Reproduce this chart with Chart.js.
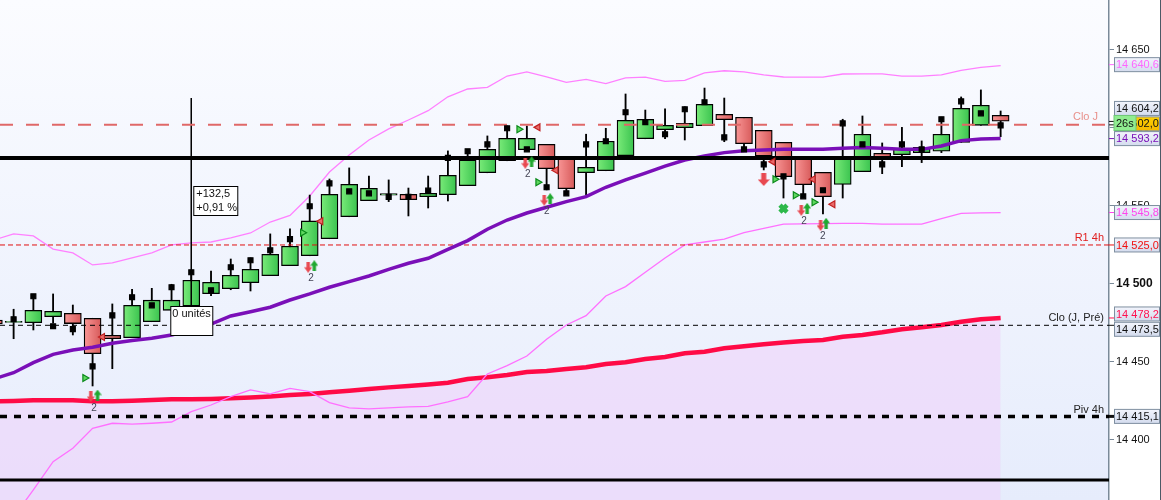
<!DOCTYPE html>
<html>
<head>
<meta charset="utf-8">
<title>Chart</title>
<script src="https://cdn.jsdelivr.net/npm/chart.js@4/dist/chart.umd.min.js"></script>
<style>
  html, body { margin: 0; padding: 0; background: #fff; }
  canvas { display: block; }
</style>
</head>
<body>
<canvas id="chart" width="1161" height="500"></canvas>
<script>
// ---- candles, index 0 is the one cut by the left edge
const opens = [14476.9,14475.3,14475.2,14479,14481.2,14478,14467.1,14465.6,14475.8,14483.1,14485.9,14493.8,14497,14500.8,14505.3,14511.7,14518.1,14529,14543.1,14553.4,14557,14557.5,14556,14557.2,14563,14571.3,14579,14586.1,14589.5,14580.1,14571.3,14572.6,14582.2,14593.1,14598.9,14600.2,14601.5,14608.8,14606.9,14598.5,14590.8,14580.1,14571.6,14563.8,14572,14583.8,14582.9,14584.2,14585.1,14590.8,14601.7,14608.1];
const closes = [14474.4,14476,14483.1,14482.5,14474.6,14455.3,14464.9,14486.3,14489.6,14489.6,14502.4,14501.1,14505.6,14509.4,14519,14524.2,14540.4,14557.5,14563.9,14561.3,14558,14554,14558.1,14569.7,14579.5,14586.3,14593.4,14593.4,14573.9,14561.1,14574.8,14591.5,14604.9,14605.6,14601.7,14603,14615.2,14605.3,14589.9,14582,14568.8,14563.7,14556,14580.1,14596,14581.2,14586.5,14587.6,14596,14612.6,14614.6,14604.3];
const highs = [14476.9,14483.8,14492.9,14493.6,14486.5,14478,14487.2,14496.6,14497.2,14499.8,14508,14508.3,14516,14516.7,14532.1,14535.3,14557,14567.3,14574.4,14569.2,14566.7,14561.5,14569.2,14585.3,14586.3,14594.9,14601.3,14601.3,14589.5,14580.1,14596,14599.8,14621.8,14611.5,14612.2,14613.6,14625.6,14619.2,14606.9,14598.5,14590.8,14580.1,14571.6,14605.6,14607.7,14590.4,14600.4,14591.7,14606.9,14619.9,14624.4,14610.9];
const lows = [14474.4,14464.9,14470.5,14475,14467.3,14434.6,14445.7,14465.6,14475.8,14483.1,14485.9,14492.5,14496.3,14495.5,14505.3,14511.7,14518.1,14529,14543.1,14553.4,14552.8,14543.6,14548.7,14553.2,14563,14571.3,14579,14586.1,14560.3,14558.3,14557,14572.6,14582.2,14593.1,14593.1,14592.3,14601.5,14591.2,14587.2,14573.1,14555.1,14556,14544.9,14555.1,14572,14570.7,14575.2,14577.8,14584.2,14590.8,14601.7,14594.4];
const dots = [null,14477.4,14492.1,14472.9,14471,14447.2,14479.9,14491.5,14486.3,14497.9,14507.5,14496,14510.7,14515.2,14521.6,14528.7,14549.8,14564.5,14559.4,14558.1,14555.8,14555.8,14559.8,14580.8,14585.1,14589.5,14599.8,14586.3,14562,14558.1,14589.5,14591.5,14610.1,14603.8,14596,14612,14616.5,14594,14586.3,14576.7,14569,14556.2,14560.1,14603,14589.5,14576.7,14589.5,14586.3,14605.6,14617.1,14609.4,14601.7];

// ---- indicators
const upperBand = [14528.2,14532.1,14530.8,14522.4,14519.9,14512.2,14513.5,14516.7,14519.9,14525,14526.3,14526.9,14529.5,14532.7,14539.7,14543.9,14556.4,14571.8,14582.7,14592.3,14599.4,14605.1,14611.1,14620,14625,14626,14633.3,14636,14632.7,14629.2,14631.2,14628.5,14632.1,14632.6,14629.9,14630.5,14635.3,14636.7,14636,14634,14632.7,14632.6,14632.6,14634.6,14634.7,14634.7,14633.3,14633.3,14634,14636.9,14638.8,14640];
const lowerBand = [14335.9,14350.6,14368,14386.1,14394.7,14407.5,14410.7,14410.1,14410.7,14411.5,14418.1,14422.4,14427.8,14432.1,14429.5,14433.1,14431,14423.9,14420.5,14419.9,14420.5,14421.2,14421.5,14424.4,14427.8,14442.3,14447.6,14453.8,14464.6,14473.7,14479.7,14492.3,14498.3,14507.5,14516.7,14525,14526.9,14528.8,14532.9,14535.7,14538.3,14538.5,14538.7,14538.8,14538.9,14538.3,14538.3,14538.3,14541.9,14545.3,14545.6,14545.8];
const purpleMa = [14439.1,14443.1,14449.6,14454.9,14457.7,14459.4,14462,14463.7,14465.2,14467.3,14470.5,14474.2,14479.5,14482.2,14485.1,14489.7,14493.6,14497.9,14501.5,14505.1,14509.4,14513.3,14516.5,14522.2,14527.8,14535.1,14541,14545.5,14549.2,14552.8,14556,14562,14566.7,14571,14575.6,14579.5,14582,14584.2,14585.4,14585.9,14586.3,14586.3,14586.3,14587,14587.5,14587,14586.3,14586.3,14588.5,14591.9,14592.9,14593.2];
const redMa = [14424.7,14425,14425.5,14425.5,14425.5,14424.8,14424.8,14425.2,14425.6,14426.1,14426.1,14426.3,14426.7,14427.2,14427.9,14428.8,14429.5,14430.6,14431.6,14432.7,14433.7,14434.6,14435.6,14436.7,14439.1,14440.2,14441.7,14443.6,14444.2,14445.5,14446.6,14448.7,14449.8,14451.9,14453.2,14455.6,14456.6,14458.8,14460.1,14461.3,14462.4,14463.5,14464.1,14466.2,14467.3,14469,14471,14472.2,14473.7,14475.8,14477.4,14478.2];

// ---- horizontal levels
const cloJ = 14602;
const blackLevel = 14580.8;
const r1 = 14525;
const cloPre = 14473.5;
const piv = 14415.1;
const bottomLevel = 14374.4;

// ---- signals: [candle position, price]
const triRight = [[4.61,14439.7],[15.64,14532.9],[26.6,14599.2],[27.56,14565.2],[39.57,14567.1],[40.6,14556.9],[41.55,14552.4]];
const triLeft = [[5.5,14466],[16.56,14540.2],[27.56,14600.4],[28.47,14572.9],[39.46,14578.4],[41.5,14567.1],[42.5,14551.1]];
const arrowsDown = [[4.91,14427.8],[15.92,14510.7],[26.92,14577.4],[27.88,14553.7],[40.9,14547.2],[41.88,14537.6]];
const arrowsUp = [[5.25,14428.8],[16.23,14511.7],[27.24,14578.4],[28.18,14554.7],[41.2,14548.5],[42.16,14538.9]];
const twos = [[5.07,14420.5],[16.06,14503.7],[27.05,14570.5],[28.01,14546.6],[41.04,14540.2],[41.99,14530.8]];
const bigArrowDown = [[39,14567]];
const crossMark = [[40,14548.3]];
const measureCandle = 10;
const measureTop = 14619.2;
const measureBottom = 14469;

// ---- texts
const measureLines = ['+132,5', '+0,91 %'];
const unitsText = '0 unités';
const levelNames = [
  { text: 'Clo J', value: cloJ, color: '#e8908a', dy: -8, right: 1098 },
  { text: 'R1 4h', value: r1, color: '#e02020', dy: -7, right: 1104 },
  { text: 'Clo (J, Pré)', value: cloPre, color: '#222', dy: -7, right: 1104 },
  { text: 'Piv 4h', value: piv, color: '#222', dy: -6, right: 1104 }
];
const tagValues = [14640.6, 14604.2, 14602, 14593.2, 14545.8, 14525, 14478.2, 14473.5, 14415.1];
const tagTexts = ['14 640,6', '14 604,2', '14 602,0', '14 593,2', '14 545,8', '14 525,0', '14 478,2', '14 473,5', '14 415,1'];
const tagColors = ['#ff66ff', '#111', '#111', '#7a10b8', '#ff44ee', '#f01010', '#ff1050', '#111', '#111'];
const tagShift = [0, -13, -1, 0, 0, 0, -4, 4, 0];

const FONT = '"Liberation Sans", Arial, sans-serif';
const pts = list => list.map(p => ({ x: p[0], y: p[1] }));
const series = list => list.map((v, i) => ({ x: i, y: v }));
const XMIN = 0.31, XMAX = 56.49;
const flat = v => [{ x: XMIN, y: v }, { x: XMAX, y: v }];

function makeArrow(color, up, w, h) {
  const c = document.createElement('canvas');
  c.width = w; c.height = h;
  const g = c.getContext('2d');
  g.fillStyle = color;
  const sw = w * 0.42, mid = h * 0.5;
  g.beginPath();
  if (up) {
    g.moveTo(w / 2, 0); g.lineTo(w, mid); g.lineTo(w / 2 + sw / 2, mid); g.lineTo(w / 2 + sw / 2, h);
    g.lineTo(w / 2 - sw / 2, h); g.lineTo(w / 2 - sw / 2, mid); g.lineTo(0, mid);
  } else {
    g.moveTo(w / 2, h); g.lineTo(w, mid); g.lineTo(w / 2 + sw / 2, mid); g.lineTo(w / 2 + sw / 2, 0);
    g.lineTo(w / 2 - sw / 2, 0); g.lineTo(w / 2 - sw / 2, mid); g.lineTo(0, mid);
  }
  g.closePath();
  g.fill();
  return c;
}

// body colours go light to dark from left to right
function bodyFill(ctx) {
  const i = ctx.dataIndex;
  if (i === undefined) return '#55d055';
  const up = closes[i] >= opens[i];
  const px = ctx.chart.scales.x.getPixelForValue(i);
  if (!Number.isFinite(px)) return up ? '#55d055' : '#e87a7a';
  const g = ctx.chart.ctx.createLinearGradient(px - 8, 0, px + 8, 0);
  g.addColorStop(0, up ? '#78ea78' : '#f89494');
  g.addColorStop(1, up ? '#3cc450' : '#d85c5c');
  return g;
}

function lineSet(data, color, width, order, extra) {
  return Object.assign({
    type: 'line', data, borderColor: color, borderWidth: width, pointRadius: 0,
    tension: 0, fill: false, order, borderCapStyle: 'butt'
  }, extra || {});
}

function markerSet(data, style, radius, fill, stroke, rotation, order) {
  return {
    type: 'line', data, showLine: false, pointStyle: style, pointRadius: radius,
    pointBackgroundColor: fill, pointBorderColor: stroke, pointBorderWidth: 1.2,
    pointRotation: rotation, order
  };
}

// background, tags and boxes that the library has no mark for
const decor = {
  id: 'decor',
  beforeDraw(chart) {
    const { ctx, chartArea: a } = chart;
    const g = ctx.createLinearGradient(0, a.top, 0, a.bottom);
    g.addColorStop(0, '#fbfcff');
    g.addColorStop(1, '#e6ecfc');
    ctx.fillStyle = g;
    ctx.fillRect(a.left, a.top, a.right - a.left, a.bottom - a.top);
  },
  afterDraw(chart) {
    const { ctx, chartArea: a, scales: { x, y } } = chart;
    ctx.save();
    ctx.textBaseline = 'middle';

    // the little 2 under the paired arrows
    ctx.font = '10px ' + FONT;
    ctx.fillStyle = '#445';
    ctx.textAlign = 'center';
    twos.forEach(p => ctx.fillText('2', x.getPixelForValue(p[0]), y.getPixelForValue(p[1])));

    // level names
    ctx.font = '11px ' + FONT;
    ctx.textAlign = 'right';
    levelNames.forEach(n => {
      ctx.fillStyle = n.color;
      ctx.fillText(n.text, n.right, y.getPixelForValue(n.value) + n.dy);
    });
    ctx.textAlign = 'left';

    // measure boxes
    const mx = x.getPixelForValue(measureCandle);
    ctx.fillStyle = '#fff';
    ctx.strokeStyle = '#000';
    ctx.lineWidth = 1;
    ctx.fillRect(mx + 2.5, 186.5, 44, 29);
    ctx.strokeRect(mx + 2.5, 186.5, 44, 29);
    ctx.fillRect(mx - 20.5, 306.5, 42, 29);
    ctx.strokeRect(mx - 20.5, 306.5, 42, 29);
    ctx.fillStyle = '#111';
    ctx.font = '11px ' + FONT;
    ctx.fillText(measureLines[0], mx + 5, 194);
    ctx.fillText(measureLines[1], mx + 5, 207.5);
    ctx.fillText(unitsText, mx - 19, 314);

    // price tags on the axis
    ctx.font = '11px ' + FONT;
    tagValues.forEach((v, i) => {
      const py = y.getPixelForValue(v);
      const cy = py + tagShift[i];
      ctx.strokeStyle = tagColors[i];
      ctx.lineWidth = v === piv ? 3 : 1;
      ctx.beginPath();
      ctx.moveTo(a.right, py);
      ctx.lineTo(a.right + 5, py);
      ctx.stroke();
      const grad = ctx.createLinearGradient(0, cy - 7, 0, cy + 7);
      grad.addColorStop(0, v === 14602 ? '#ffd000' : '#f2f4fc');
      grad.addColorStop(1, v === 14602 ? '#f5b800' : '#d4dcee');
      ctx.fillStyle = grad;
      ctx.fillRect(1114.5, cy - 7, 45, 14);
      ctx.strokeStyle = '#7f8fa0';
      ctx.lineWidth = 1;
      ctx.strokeRect(1114.5, cy - 7, 45, 14);
      ctx.fillStyle = tagColors[i];
      ctx.fillText(tagTexts[i], 1116, cy + 0.5);
    });

    // countdown on top of the orange tag
    ctx.fillStyle = '#90ec90';
    ctx.fillRect(1114, 115.5, 22, 15);
    ctx.strokeStyle = '#70c878';
    ctx.strokeRect(1114, 115.5, 22, 15);
    ctx.fillStyle = '#111';
    ctx.font = '11px ' + FONT;
    ctx.fillText('26s', 1116, 123.5);

    // dark edge of the window
    ctx.fillStyle = '#4c5a66';
    ctx.fillRect(1160, 0, 1, 500);
    ctx.restore();
  }
};

new Chart(document.getElementById('chart'), {
  type: 'bar',
  plugins: [decor],
  data: {
    datasets: [
      // lowest order is painted last
      lineSet(series(redMa), '#ff0a46', 4.5, 90, { fill: 'start', backgroundColor: 'rgba(240,205,250,0.5)' }),
      lineSet(series(upperBand), '#ff80ff', 1.3, 80),
      lineSet(series(lowerBand), '#ff70ff', 1.3, 80),
      { type: 'bar', data: highs.map((h, i) => ({ x: i, y: [lows[i], h] })), backgroundColor: '#000', barThickness: 1.2, grouped: false, order: 70 },
      {
        type: 'bar', data: opens.map((o, i) => ({ x: i, y: [o, closes[i]] })),
        backgroundColor: bodyFill, borderColor: '#000', borderWidth: 1.3, borderSkipped: false,
        barThickness: 17, grouped: false, order: 60
      },
      lineSet([{ x: measureCandle, y: measureTop }, { x: measureCandle, y: measureBottom }], '#000', 1, 55),
      lineSet(flat(cloJ), '#e06868', 2, 50, { borderDash: [13, 13] }),
      lineSet(flat(r1), '#e01010', 1, 50, { borderDash: [5, 3] }),
      lineSet(flat(cloPre), '#000', 1, 50, { borderDash: [5, 4] }),
      lineSet(series(purpleMa), '#7a0fb8', 3.5, 45),
      lineSet(flat(blackLevel), '#000', 4, 40),
      lineSet(flat(piv), '#000', 3.5, 40, { borderDash: [7, 7] }),
      lineSet(flat(bottomLevel), '#000', 3, 40),
      markerSet(series(dots), 'rect', 3.5, '#000', '#000', 0, 30),
      markerSet(pts(triRight), 'triangle', 4, '#60d860', '#0a8a1a', 90, 20),
      markerSet(pts(triLeft), 'triangle', 4, '#ea6a6a', '#c02020', -90, 20),
      markerSet(pts(arrowsDown), makeArrow('#e84850', false, 8, 11), 4, '#e84850', '#e84850', 0, 20),
      markerSet(pts(arrowsUp), makeArrow('#1fa82f', true, 8, 11), 4, '#1fa82f', '#1fa82f', 0, 20),
      markerSet(pts(bigArrowDown), makeArrow('#e84850', false, 12, 13), 6, '#e84850', '#e84850', 0, 20),
      Object.assign(markerSet(pts(crossMark), 'crossRot', 5, '#2db84a', '#2db84a', 0, 20), { pointBorderWidth: 4.5 })
    ]
  },
  options: {
    responsive: false,
    animation: false,
    events: [],
    layout: { padding: 0, autoPadding: false },
    plugins: { legend: { display: false }, tooltip: { enabled: false } },
    scales: {
      x: { type: 'linear', display: false, min: XMIN, max: XMAX, offset: false },
      y: {
        position: 'right',
        min: 14361.5,
        max: 14682.05,
        afterFit: s => { s.width = 52; s.paddingTop = 0; s.paddingBottom = 0; },
        border: { color: '#7a8a99', width: 1.5 },
        grid: { drawOnChartArea: false, tickLength: 5, color: '#7a8a99' },
        ticks: {
          stepSize: 50,
          includeBounds: false,
          padding: 2,
          color: '#111',
          font: c => (c.tick && c.tick.value === 14500
            ? { family: FONT, size: 12, weight: 'bold' }
            : { family: FONT, size: 11 }),
          callback: v => String(v).slice(0, 2) + ' ' + String(v).slice(2)
        }
      }
    }
  }
});
</script>
</body>
</html>
